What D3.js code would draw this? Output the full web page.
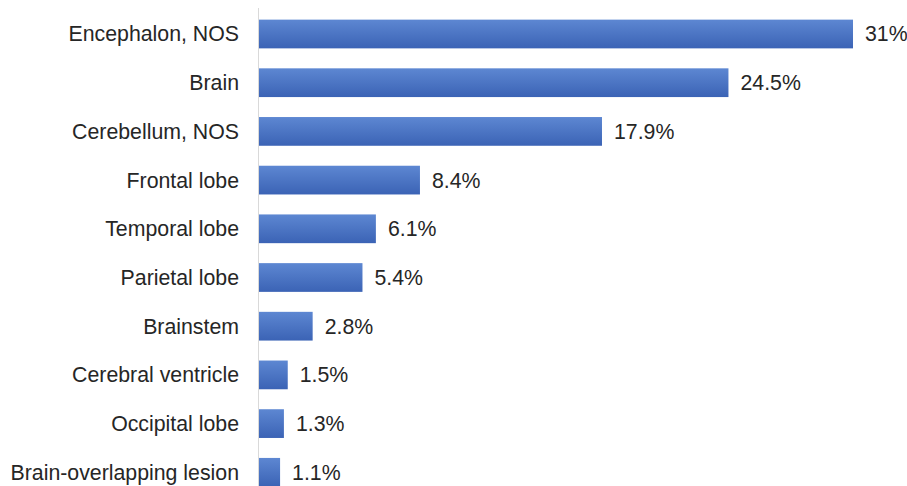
<!DOCTYPE html>
<html>
<head>
<meta charset="utf-8">
<script src="https://cdn.jsdelivr.net/npm/d3@7"></script>
<style>
  body { margin: 0; background: #fff; }
  text { font-family: "Liberation Sans", Arial, sans-serif; fill: #262626; }
</style>
</head>
<body>
<div id="chart"></div>
<script>
// data
const sites = ["Encephalon, NOS", "Brain", "Cerebellum, NOS", "Frontal lobe", "Temporal lobe",
  "Parietal lobe", "Brainstem", "Cerebral ventricle", "Occipital lobe", "Brain-overlapping lesion"];
const percents = [31, 24.5, 17.9, 8.4, 6.1, 5.4, 2.8, 1.5, 1.3, 1.1];
const valueLabels = ["31%", "24.5%", "17.9%", "8.4%", "6.1%", "5.4%", "2.8%", "1.5%", "1.3%", "1.1%"];

const width = 907, height = 486;

const svg = d3.select("#chart").append("svg")
  .attr("width", width)
  .attr("height", height);

// gradient fill, a bit lighter at the top of each bar
const grad = svg.append("defs").append("linearGradient")
  .attr("id", "barGrad")
  .attr("x1", 0).attr("y1", 0).attr("x2", 0).attr("y2", 1);
grad.append("stop").attr("offset", "0%").attr("stop-color", "#5d87d2");
grad.append("stop").attr("offset", "100%").attr("stop-color", "#3b63b5");

const x = d3.scaleLinear()
  .domain([0, 31])
  .range([259, 853]);

const y = d3.scaleBand()
  .domain(sites)
  .range([9.65, 496.65])
  .paddingInner(0.41)
  .paddingOuter(0.205);

// axis line
svg.append("line")
  .attr("x1", 258.5).attr("x2", 258.5)
  .attr("y1", 8).attr("y2", height)
  .attr("stroke", "#d9d9d9")
  .attr("stroke-width", 1);

svg.selectAll("rect.bar")
  .data(percents)
  .enter()
  .append("rect")
  .attr("class", "bar")
  .attr("x", x(0))
  .attr("y", (d, i) => y(sites[i]))
  .attr("width", d => x(d) - x(0))
  .attr("height", y.bandwidth())
  .attr("fill", "url(#barGrad)");

// category labels
svg.selectAll("text.cat")
  .data(sites)
  .enter()
  .append("text")
  .attr("class", "cat")
  .attr("x", 239)
  .attr("y", d => y(d) + y.bandwidth() / 2)
  .attr("dy", "0.35em")
  .attr("text-anchor", "end")
  .style("font-size", "21.3px")
  .text(d => d);

// value labels
svg.selectAll("text.val")
  .data(percents)
  .enter()
  .append("text")
  .attr("class", "val")
  .attr("x", d => x(d) + 12)
  .attr("y", (d, i) => y(sites[i]) + y.bandwidth() / 2)
  .attr("dy", "0.35em")
  .style("font-size", "21.3px")
  .text((d, i) => valueLabels[i]);
</script>
</body>
</html>
